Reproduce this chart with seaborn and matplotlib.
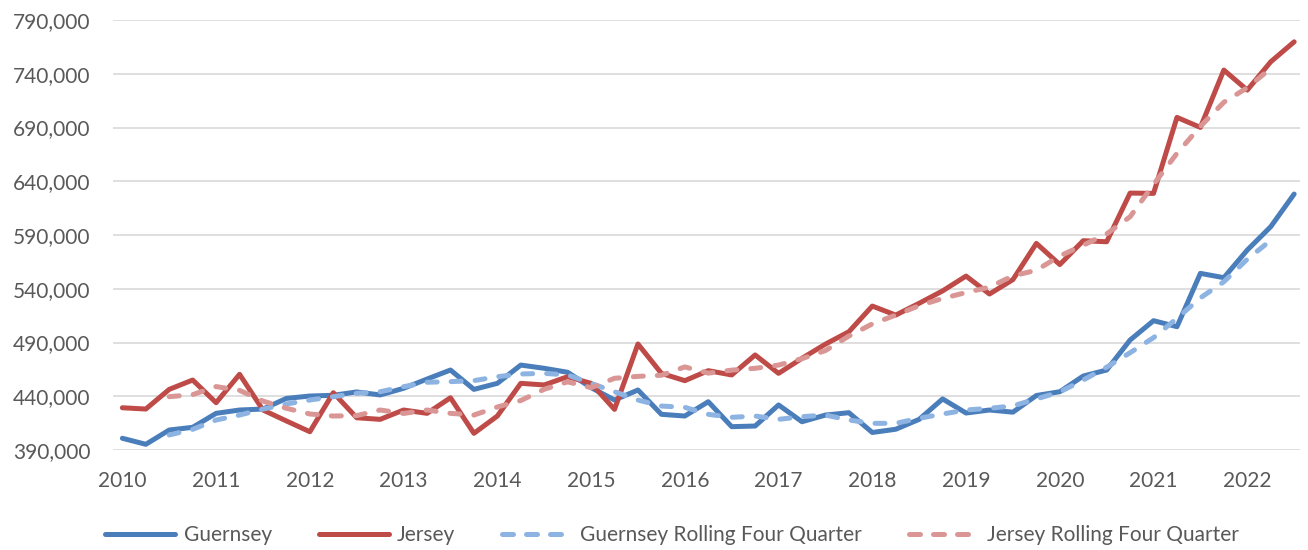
import seaborn as sns
import pandas as pd
import matplotlib
matplotlib.use('Agg')
import matplotlib.pyplot as plt
from matplotlib.lines import Line2D
from matplotlib.ticker import FuncFormatter

#-----------------------------------------------------------------------------------------------------------------------
"""Data (quarterly, 2010 Q1 - 2022 Q3)"""
year_labels = ['2010', '2011', '2012', '2013', '2014', '2015', '2016',
               '2017', '2018', '2019', '2020', '2021', '2022']

guernsey = [400900, 395300, 408600, 411100, 424100, 427200, 428100, 438000, 440200, 440900, 444000,
            441200, 447400, 456000, 464400, 446400, 452000, 469000, 466000, 462300, 448000,
            436500, 445800, 423200, 421600, 434900, 411700, 412300, 431900, 416300, 422500,
            424700, 406300, 409300, 418500, 437500, 424400, 427200, 425200, 440700, 444200,
            458800, 464400, 492300, 510300, 504700, 554300, 550300, 576000, 597700, 628100]

jersey = [429300, 428100, 446400, 455100, 434000, 460400, 427200, 417000, 407000, 443300, 420000,
          418500, 427200, 424100, 438600, 405500, 421600, 452000, 450500, 458200, 452000,
          427800, 488600, 461300, 454500, 463800, 459800, 478400, 461300, 475300, 488500,
          500000, 523900, 515500, 526500, 538000, 551800, 535100, 548500, 582200, 562500,
          584700, 583700, 629000, 628700, 699400, 690100, 743400, 724800, 751100, 769700]

# rolling four quarter series run from the 3rd to the 50th quarter
guernsey_rolling = [404000, 409200, 417900, 422500, 428100, 432800, 436500, 439600, 442700,
                    444200, 448900, 453000, 453600, 454500, 458200, 460700, 461300, 459800, 452000,
                    444200, 436500, 430900, 429700, 423200, 420400, 421600, 418500, 421000, 422500,
                    417900, 414800, 414800, 419500, 423500, 427200, 428800, 431000, 437500, 444000,
                    455100, 467000, 480500, 494500, 512500, 531500, 546500, 567500, 585000]

jersey_rolling = [439600, 441500, 449000, 445500, 435500, 428800, 423500, 421600, 422000,
                  427200, 424000, 427200, 424100, 422500, 430000, 436000, 446500, 453400, 448000,
                  456700, 458500, 459500, 467300, 461500, 464300, 466000, 469000, 475000, 482500,
                  496000, 507300, 515500, 524300, 531000, 536500, 541500, 552000, 557200, 570500,
                  580500, 591000, 607000, 637000, 666000, 691000, 713500, 727000, 745000]

q = list(range(len(guernsey)))
q_roll = q[2:2 + len(guernsey_rolling)]

df = pd.DataFrame({'q': q, 'Guernsey': guernsey, 'Jersey': jersey})
df_roll = pd.DataFrame({'q': q_roll,
                        'Guernsey Rolling Four Quarter': guernsey_rolling,
                        'Jersey Rolling Four Quarter': jersey_rolling})

#-----------------------------------------------------------------------------------------------------------------------
"""Figure"""
sns.set_theme(style='white')
plt.rcParams['font.family'] = ['Lato', 'DejaVu Sans']

fig = plt.figure(figsize=(13.08, 5.5), dpi=100)
ax = fig.add_axes([113 / 1308, 100 / 550, 1187 / 1308, 430 / 550])

text_col = '#595959'
lw = 3.6
fs = 15
series = [('Guernsey', '#4a7ebb', False), ('Jersey', '#be4b48', False),
          ('Guernsey Rolling Four Quarter', '#8db3e2', True),
          ('Jersey Rolling Four Quarter', '#d99694', True)]

#-----------------------------------------------------------------------------------------------------------------------
"""Lines"""
for name, col, dashed in series:
    data = df_roll if dashed else df
    sns.lineplot(data=data, x='q', y=name, ax=ax, color=col, lw=lw, legend=False)

for i, line in enumerate(ax.lines):
    line.set_solid_capstyle('round')
    line.set_solid_joinstyle('round')
    if i >= 2:
        line.set_dashes((2.0, 2.8))
        line.set_dash_capstyle('round')

#-----------------------------------------------------------------------------------------------------------------------
"""Axes"""
ax.set_xlim(-0.4, 50.25)
ax.set_ylim(390000, 790000)
ax.set_yticks(range(390000, 790001, 50000))
ax.yaxis.set_major_formatter(FuncFormatter(lambda v, p: f'{int(v):,}'))
ax.set_xticks(q[::4])
ax.set_xticklabels(year_labels)
ax.set_xlabel('')
ax.set_ylabel('')

ax.yaxis.grid(True, color='#d9d9d9', lw=1.2)
ax.xaxis.grid(False)
for s in ax.spines.values():
    s.set_visible(False)
ax.tick_params(axis='y', length=0, pad=16, labelsize=fs, labelcolor=text_col)
ax.tick_params(axis='x', length=0, pad=15, labelsize=fs, labelcolor=text_col)

#-----------------------------------------------------------------------------------------------------------------------
"""Legend"""
handles = []
for name, col, dashed in series:
    h = Line2D([], [], color=col, lw=lw, solid_capstyle='round', dash_capstyle='round')
    if dashed:
        h.set_dashes((2.2, 2.6))
    handles.append(h)
fig.legend(handles=handles, labels=[s[0] for s in series], loc='center',
           bbox_to_anchor=(0.514, 1 - 535 / 550), ncol=4, frameon=False, fontsize=fs,
           labelcolor=text_col, handlelength=3.36, handletextpad=0.4, columnspacing=2.25)

fig.savefig('out.png', dpi=100)
